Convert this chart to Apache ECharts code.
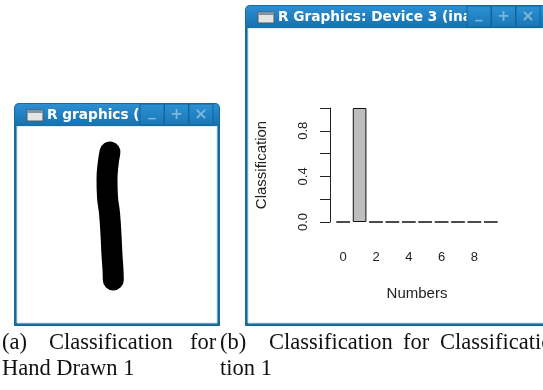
<!DOCTYPE html>
<html>
<head>
<meta charset="utf-8">
<title>Classification</title>
<script src="https://cdn.jsdelivr.net/npm/echarts@6/dist/echarts.min.js"></script>
<style>
  html, body { margin: 0; padding: 0; background: #fff; }
  #chart { width: 543px; height: 390px; }
</style>
</head>
<body>
<div id="chart"></div>
<script>
// classification result, one bar per digit
const digits = ['0', '1', '2', '3', '4', '5', '6', '7', '8', '9'];
const classification = [0, 1, 0, 0, 0, 0, 0, 0, 0, 0];
const yTicks = [0, 0.2, 0.4, 0.6, 0.8, 1];
const yTickLabels = ['0.0', '', '0.4', '', '0.8', ''];

// hand drawn "1" stroke (drawing units, origin top-left)
const strokeX = [93, 91, 90, 90.5, 92.5, 94, 95, 96, 96.3];
const strokeY = [26, 39, 54, 71, 87, 109, 129, 144, 154];

const chart = echarts.init(document.getElementById('chart'));

// window frame: border, title bar, icon and title text
function windowFrame(x, y, w, h, title, titleX) {
  const els = [];
  els.push({ type: 'rect', z: 0, shape: { x: x, y: y, width: w, height: h, r: [5, 5, 0, 0] },
    style: { fill: '#176a9c' } });
  els.push({ type: 'rect', z: 0, shape: { x: x + 3, y: y + 23, width: w - 6, height: h - 26 },
    style: { fill: '#ffffff', stroke: '#c9dbe7', lineWidth: 1 } });
  els.push({ type: 'rect', z: 0, shape: { x: x + 1, y: y + 1, width: w - 2, height: 22, r: [4, 4, 0, 0] },
    style: { fill: new echarts.graphic.LinearGradient(0, 0, 0, 1, [
      { offset: 0, color: '#2c8fd2' }, { offset: 1, color: '#1670ad' }]) } });
  els.push({ type: 'rect', z: 1, shape: { x: x + 13, y: y + 7, width: 16, height: 11 },
    style: { fill: '#e4e4e4', stroke: '#4a5a66', lineWidth: 1 } });
  els.push({ type: 'rect', z: 1, shape: { x: x + 13, y: y + 7, width: 16, height: 3 },
    style: { fill: '#7f93a3' } });
  els.push({ type: 'text', z: 1, style: { text: title, x: titleX, y: y + 12.5, verticalAlign: 'middle',
    fill: '#ffffff', font: 'bold 13.7px "DejaVu Sans"' } });
  return els;
}

function buttons(x0, y) {
  const els = [];
  const glyphs = ['_', '+', '×'];
  for (let i = 0; i < 3; i++) {
    const bx = x0 + i * 24.5;
    els.push({ type: 'rect', z: 2, shape: { x: bx, y: y + 1, width: 24, height: 21 },
      style: { fill: new echarts.graphic.LinearGradient(0, 0, 0, 1, [
        { offset: 0, color: '#2b92d4' }, { offset: 1, color: '#1a76b4' }]),
        stroke: '#15639a', lineWidth: 1 } });
    els.push({ type: 'text', z: 3, style: { text: glyphs[i], x: bx + 12, y: y + (i === 0 ? 9 : 12),
      align: 'center', verticalAlign: 'middle', fill: '#7fb6de',
      font: 'bold ' + (i === 2 ? 16 : 15) + 'px "DejaVu Sans"' } });
  }
  return els;
}

function caption(words, y) {
  return words.map(function (w) {
    return { type: 'text', z: 1, style: { text: w[0], x: w[1], y: y, verticalAlign: 'middle',
      fill: '#111', font: '22.5px "Liberation Serif"' } };
  });
}

const elements = []
  .concat(windowFrame(14, 103, 206, 223, 'R graphics (Device 2', 47))
  .concat(buttons(140, 103))
  .concat(windowFrame(245, 5, 310, 321, 'R Graphics: Device 3 (inactive)', 278))
  .concat(buttons(467, 5))
  .concat(caption([['(a)', 2], ['Classification', 49], ['for', 190], ['(b)', 220],
    ['Classification', 269], ['for', 403], ['Classification', 440]], 343))
  .concat(caption([['Hand Drawn 1', 2], ['tion 1', 220]], 369));

const textColor = '#222';

chart.setOption({
  animation: false,
  graphic: { elements: elements },
  grid: [
    { left: 335, top: 108, width: 164, height: 114, outerBoundsMode: 'none' },
    { left: 17, top: 126, width: 200, height: 197, outerBoundsMode: 'none' }
  ],
  xAxis: [
    {
      gridIndex: 0,
      type: 'category',
      data: digits,
      name: 'Numbers',
      nameLocation: 'middle',
      nameGap: 64,
      nameTextStyle: { color: textColor, fontSize: 15, fontFamily: 'Liberation Sans' },
      axisLine: { show: false },
      axisTick: { show: false },
      axisLabel: { interval: 1, margin: 29, color: textColor, fontSize: 13, fontFamily: 'Liberation Sans' }
    },
    { gridIndex: 1, type: 'value', min: 0, max: 200, show: false }
  ],
  yAxis: [
    {
      gridIndex: 0,
      type: 'value',
      min: 0,
      max: 1,
      interval: 0.2,
      offset: 5,
      name: 'Classification',
      nameLocation: 'middle',
      nameGap: 61,
      nameTextStyle: { color: textColor, fontSize: 15, fontFamily: 'Liberation Sans' },
      splitLine: { show: false },
      axisLine: { show: true, lineStyle: { color: '#222', width: 1 } },
      axisTick: { show: true, length: 10, lineStyle: { color: '#222' } },
      axisLabel: {
        rotate: 90,
        margin: 20,
        color: textColor,
        fontSize: 13,
        fontFamily: 'Liberation Sans',
        formatter: function (v) {
          const i = yTicks.findIndex(function (t) { return Math.abs(t - v) < 1e-6; });
          return i >= 0 ? yTickLabels[i] : '';
        }
      }
    },
    { gridIndex: 1, type: 'value', min: 0, max: 197, inverse: true, show: false }
  ],
  series: [
    {
      type: 'bar',
      xAxisIndex: 0,
      yAxisIndex: 0,
      data: classification,
      barCategoryGap: '16.7%',
      itemStyle: { color: '#bebebe', borderColor: '#111', borderWidth: 1 }
    },
    {
      type: 'line',
      xAxisIndex: 1,
      yAxisIndex: 1,
      data: strokeX.map(function (x, i) { return [x, strokeY[i]]; }),
      smooth: 0.5,
      symbol: 'none',
      lineStyle: { color: '#000', width: 21, cap: 'round', join: 'round' }
    }
  ]
});
</script>
</body>
</html>
